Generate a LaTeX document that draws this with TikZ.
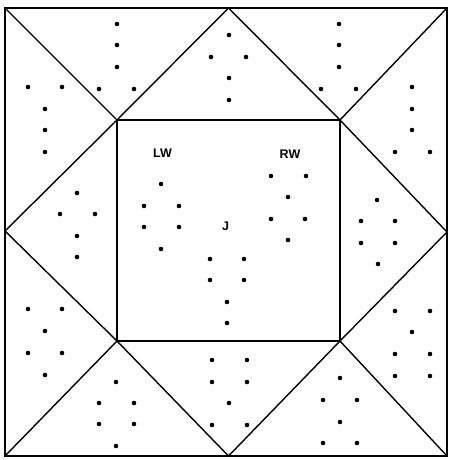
\documentclass[tikz,border=0pt]{standalone}
\usepackage{fontspec}
\setmainfont{Liberation Sans}
\begin{document}
\begin{tikzpicture}[
        x=1pt, y=-1pt,
        edge/.style={line width=1.4pt, draw=black},
        border/.style={line width=1.7pt, draw=black},
        dot/.style={fill=black},
        tag/.style={font=\fontsize{12.5}{14}\selectfont\bfseries, inner sep=0pt}
    ]
        \useasboundingbox (0,0) rectangle (448,460);

        % Outer corners and side midpoints
        \coordinate (oTL) at (5,8);
        \coordinate (oTR) at (447,8);
        \coordinate (oBR) at (447,456);
        \coordinate (oBL) at (5,456);
        \coordinate (mT) at (228.5,8);
        \coordinate (mR) at (447,232);
        \coordinate (mB) at (228.5,456);
        \coordinate (mL) at (5,231);

        % Inner square
        \coordinate (iTL) at (117,120);
        \coordinate (iTR) at (340,120);
        \coordinate (iBR) at (340,341);
        \coordinate (iBL) at (117,341);

        % Frame
        \draw[border] (oTL) -- (oTR) -- (oBR) -- (oBL) -- cycle;
        \draw[edge] (iTL) -- (iTR) -- (iBR) -- (iBL) -- cycle;

        % Star lines
        \draw[edge] (oTL) -- (iTL) -- (mT) -- (iTR) -- (oTR);
        \draw[edge] (iTL) -- (mL) -- (iBL) -- (oBL);
        \draw[edge] (iBL) -- (mB) -- (iBR) -- (oBR);
        \draw[edge] (iTR) -- (mR) -- (iBR);

        % Labels
        \node[tag] (lblLW) at (162.5,153.5) {LW};
        \node[tag] (lblRW) at (290,154) {RW};
        \node[tag] (lblJ) at (225.5,226.5) {J};

        % Dots, top row of triangles
        \foreach \px/\py in {117/24, 117/45, 117/67, 99/89, 134/89,
                             229/35, 211/57, 246/57, 229/78, 229/100,
                             339/24, 339/45, 339/67, 321/89, 356/89}
            \fill[dot] (\px,\py) circle (2.3);

        % Dots, left side
        \foreach \px/\py in {28/87, 62/87, 45/109, 45/130, 45/152,
                             77/193, 60/214, 95/214, 77/236, 77/257,
                             28/309, 62/309, 45/331, 28/353, 62/353, 45/375}
            \fill[dot] (\px,\py) circle (2.3);

        % Dots, right side
        \foreach \px/\py in {412/87, 412/109, 412/130, 395/152, 430/152,
                             377/200, 361/221, 395/221, 361/243, 395/243, 378/264,
                             395/311, 430/311, 412/332, 395/354, 430/354, 395/376, 430/376}
            \fill[dot] (\px,\py) circle (2.3);

        % Dots, bottom row of triangles
        \foreach \px/\py in {116/382, 99/403, 134/403, 99/424, 134/424, 116/446,
                             212/360, 247/360, 212/382, 247/382, 229/403, 212/425, 247/425,
                             340/378, 323/400, 357/400, 340/422, 323/443, 357/443}
            \fill[dot] (\px,\py) circle (2.3);

        % Dots, inner square
        \foreach \px/\py in {161/184, 144/206, 179/206, 144/227, 179/227, 161/249,
                             271/176, 306/176, 288/197, 271/219, 305/219, 288/240,
                             210/259, 244/259, 210/280, 244/280, 227/302, 227/323}
            \fill[dot] (\px,\py) circle (2.3);
    \end{tikzpicture}
\end{document}
